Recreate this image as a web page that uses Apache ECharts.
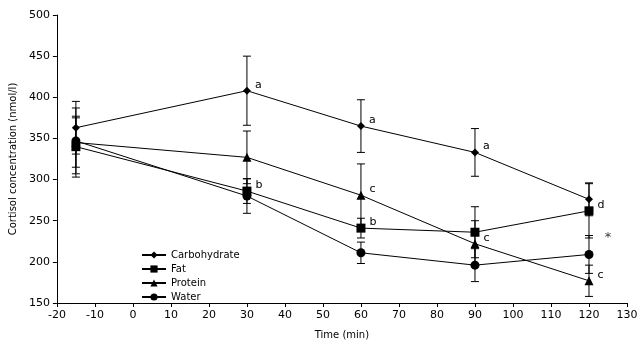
<!DOCTYPE html>
<html><head><meta charset="utf-8">
<script src="https://cdn.jsdelivr.net/npm/echarts@6/dist/echarts.min.js"></script>
<style>html,body{margin:0;padding:0;background:#fff}#c{width:641px;height:349px}</style>
</head><body><div id="c"></div>
<script>
var times = [-15, 30, 60, 90, 120];
var carbohydrate = [363, 408, 365, 333, 276];
var carbohydrateErr = [32, 42, 32, 29, 20];
var carbohydrateLetters = ['', 'a', 'a', 'a', ''];
var fat = [340, 286, 241, 236, 262];
var fatErr = [37, 15, 12, 31, 33];
var fatLetters = ['', 'b', 'b', '', 'd'];
var protein = [345, 327, 281, 222, 177];
var proteinErr = [30, 32, 38, 28, 19];
var proteinLetters = ['', '', 'c', 'c', 'c'];
var water = [347, 280, 211, 196, 209];
var waterErr = [40, 21, 13, 20, 23];
var waterLetters = ['', '', '', '', ''];
var xTicks = {min: -20, max: 130, interval: 10};
var yTicks = {min: 150, max: 500, interval: 50};
var starPoint = [125, 229];

var font = 'DejaVu Sans';
function pairs(v){ return times.map(function(t,i){ return [t, v[i]]; }); }
function lineSeries(name, vals, letters, symbol, size){
  return {
    name: name, type: 'line', data: pairs(vals), symbol: symbol, symbolSize: size,
    lineStyle: {color: '#000', width: 1}, itemStyle: {color: '#000'},
    z: 3,
    label: {show: true, position: 'right', offset: [-1, -6], color: '#000', fontFamily: font, fontSize: 11,
      formatter: function(p){ return letters[p.dataIndex]; }}
  };
}
function errSeries(vals, errs){
  return {
    type: 'custom', silent: true, z: 2,
    data: times.map(function(t,i){ return [t, vals[i] - errs[i], vals[i] + errs[i]]; }),
    renderItem: function(params, api){
      var lo = api.coord([api.value(0), api.value(1)]);
      var hi = api.coord([api.value(0), api.value(2)]);
      var w = 4;
      var st = {stroke: '#000', lineWidth: 1};
      return {type: 'group', children: [
        {type: 'line', shape: {x1: lo[0], y1: lo[1], x2: hi[0], y2: hi[1]}, style: st},
        {type: 'line', shape: {x1: lo[0]-w, y1: lo[1], x2: lo[0]+w, y2: lo[1]}, style: st},
        {type: 'line', shape: {x1: hi[0]-w, y1: hi[1], x2: hi[0]+w, y2: hi[1]}, style: st}
      ]};
    }
  };
}
var chart = echarts.init(document.getElementById('c'));
chart.setOption({
  animation: false,
  backgroundColor: '#fff',
  grid: {left: 55, right: 14, top: 15, bottom: 46},
  legend: {
    orient: 'vertical', left: 136, top: 245, itemGap: 4, itemWidth: 24, itemHeight: 9,
    textStyle: {fontFamily: font, fontSize: 10, color: '#000'},
    data: ['Carbohydrate', 'Fat', 'Protein', 'Water']
  },
  xAxis: {
    type: 'value', min: xTicks.min, max: xTicks.max, interval: xTicks.interval,
    name: 'Time (min)', nameLocation: 'middle', nameGap: 27,
    nameTextStyle: {fontFamily: font, fontSize: 10, color: '#000'},
    axisLine: {onZero: false, lineStyle: {color: '#000'}},
    axisTick: {show: true, length: 4, lineStyle: {color: '#000'}},
    axisLabel: {fontFamily: font, fontSize: 11, color: '#000', margin: 7},
    splitLine: {show: false}
  },
  yAxis: {
    type: 'value', min: yTicks.min, max: yTicks.max, interval: yTicks.interval,
    name: 'Cortisol concentration (nmol/l)', nameLocation: 'middle', nameGap: 33,
    nameTextStyle: {fontFamily: font, fontSize: 10, color: '#000'},
    axisLine: {show: true, onZero: false, lineStyle: {color: '#000'}},
    axisTick: {show: true, length: 4, lineStyle: {color: '#000'}},
    axisLabel: {fontFamily: font, fontSize: 11, color: '#000', margin: 7},
    splitLine: {show: false}
  },
  series: [
    errSeries(carbohydrate, carbohydrateErr),
    errSeries(fat, fatErr),
    errSeries(protein, proteinErr),
    errSeries(water, waterErr),
    lineSeries('Carbohydrate', carbohydrate, carbohydrateLetters, 'diamond', 8),
    lineSeries('Fat', fat, fatLetters, 'rect', 9),
    lineSeries('Protein', protein, proteinLetters, 'triangle', 9),
    lineSeries('Water', water, waterLetters, 'circle', 9),
    {type: 'scatter', data: [starPoint], symbolSize: 0, silent: true,
     label: {show: true, position: 'inside', formatter: '*', color: '#000', fontFamily: font, fontSize: 13}}
  ]
});
</script></body></html>
